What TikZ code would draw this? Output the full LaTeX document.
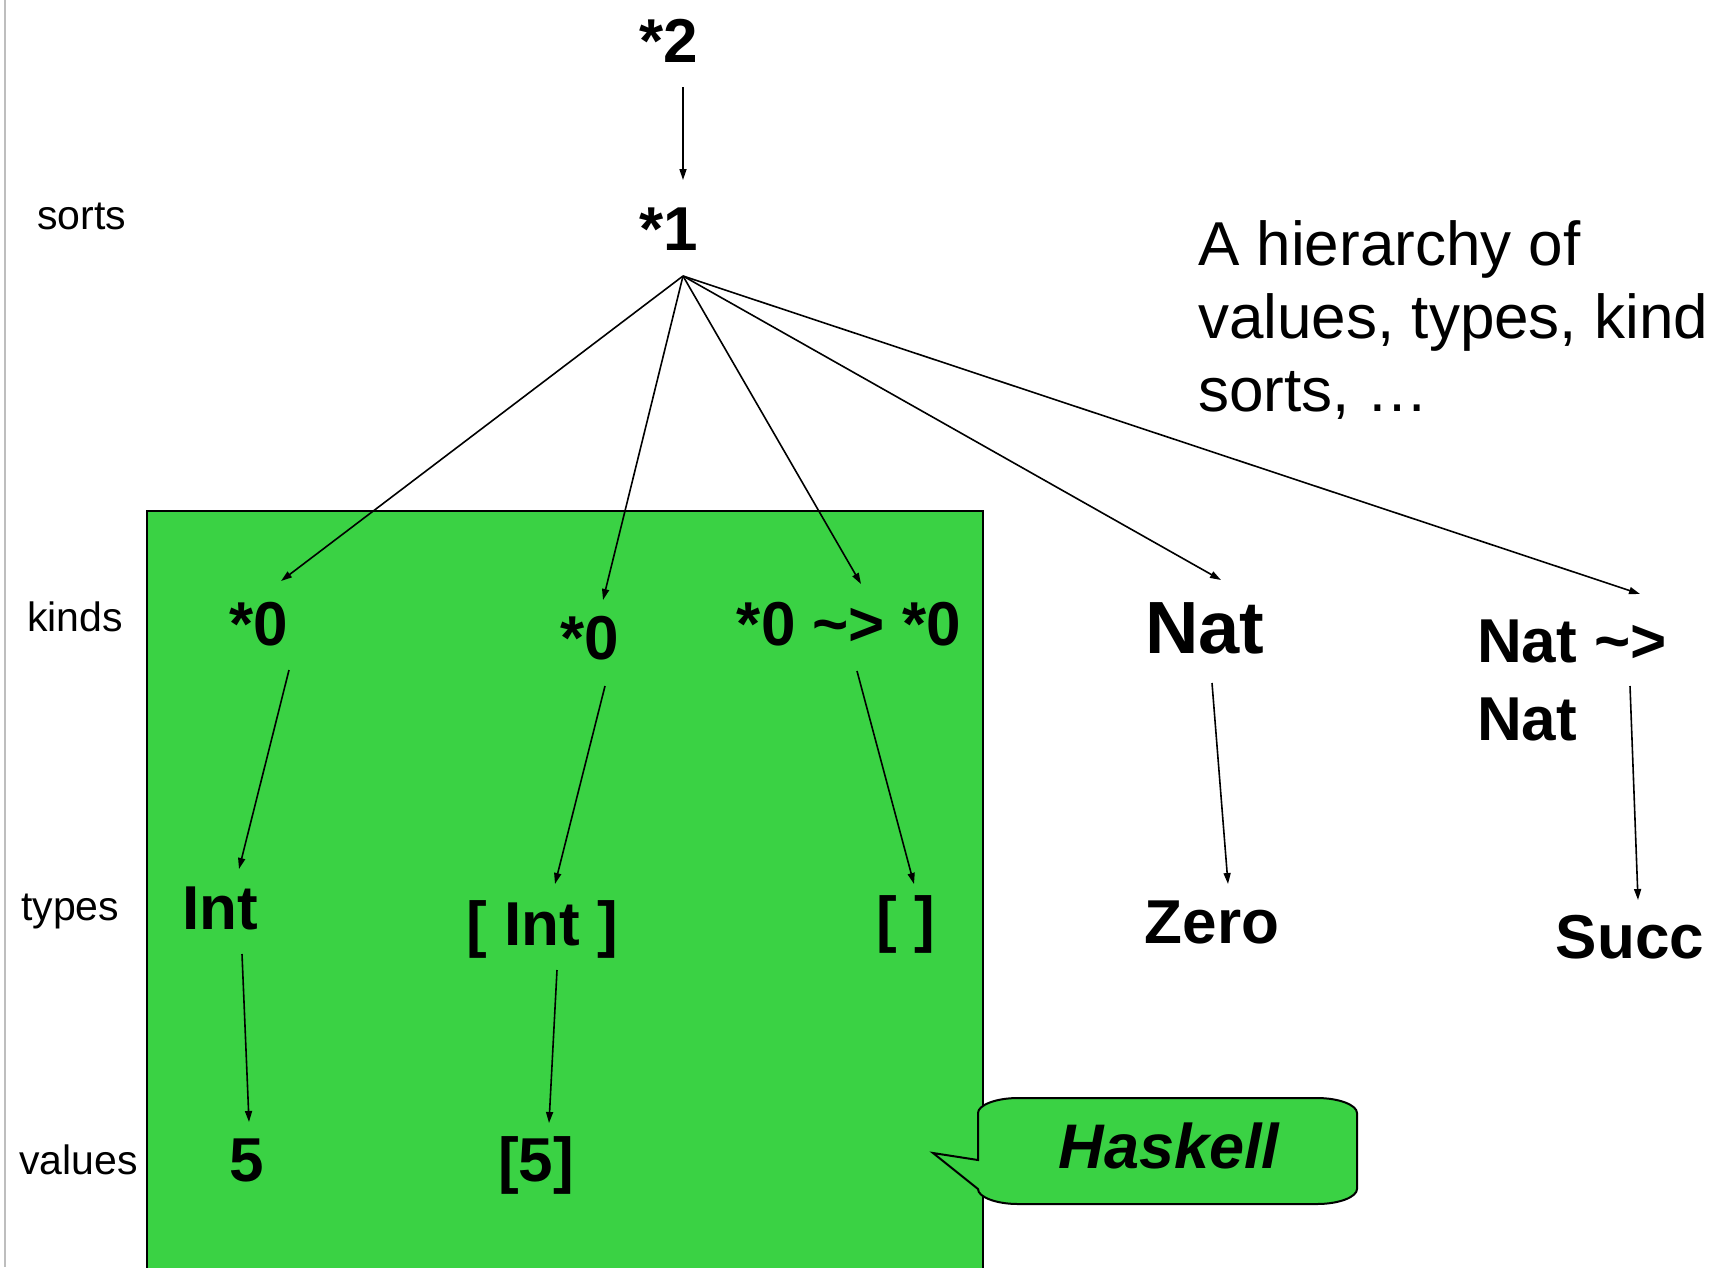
\documentclass[tikz,border=0pt]{standalone}
\usepackage{fontspec}
\setmainfont{Liberation Sans}
\usetikzlibrary{arrows.meta}
\definecolor{boxgreen}{RGB}{58,210,68}
\definecolor{edgegray}{RGB}{190,190,190}
\begin{document}
\begin{tikzpicture}[x=1pt,y=-1pt,
  lbl/.style={inner sep=0pt, anchor=base west, font=\fontsize{41}{49}\selectfont},
  term/.style={inner sep=0pt, anchor=base, font=\fontsize{62}{78}\selectfont\bfseries},
  bigterm/.style={term, font=\fontsize{74}{88}\selectfont\bfseries},
  arr/.style={line width=1.6pt, -{Triangle[length=11pt,width=7pt]}},
]
\useasboundingbox (0,0) rectangle (1712,1267);
\clip (0,0) rectangle (1712,1267);

% page edge
\draw[edgegray, line width=2pt] (5,0) -- (5,1267);

% the Haskell region
\draw[line width=2pt, fill=boxgreen] (147,511) rectangle (983,1300);

% level labels
\node[lbl] (lsorts) at (37,229) {sorts};
\node[lbl] (lkinds) at (27,631) {kinds};
\node[lbl] (ltypes) at (21,920) {types};
\node[lbl] (lvalues) at (19,1174) {values};

% sorts
\node[term] (s2) at (669,62) {*2};
\node[term] (s1) at (669,250) {*1};

% kinds
\node[term] (k1) at (259,645) {*0};
\node[term] (k2) at (590,659) {*0};
\node[term] (k3) at (849,645) {*0 \textasciitilde> *0};
\node[bigterm] (k4) at (1205,653) {Nat};
% multi-line node: its base anchor sits on the last line
\node[term, anchor=base west, align=left] (k5) at (1477,740) {Nat \textasciitilde>\\Nat};

% types
\node[term] (t1) at (220,929) {Int};
\node[term] (t2) at (542,945) {[ Int ]};
\node[term] (t3) at (906,940) {[ ]};
\node[term] (t4) at (1212,943) {Zero};
\node[term] (t5) at (1630,958) {Succ};

% values
\node[term] (v1) at (247,1181) {5};
\node[term] (v2) at (536,1181) {[5]};

% side note
\node[inner sep=0pt, anchor=base west, align=left,
      font=\fontsize{62}{73}\selectfont] (note) at (1198,411)
      {A hierarchy of\\values, types, kind\\sorts, …};

% callout
\draw[line width=2pt, fill=boxgreen]
  (978,1160) -- (978,1113)
  .. controls (978,1105) and (996,1098) .. (1018,1098) -- (1317,1098)
  .. controls (1339,1098) and (1357,1105) .. (1357,1113) -- (1357,1189)
  .. controls (1357,1197) and (1339,1204) .. (1317,1204) -- (1018,1204)
  .. controls (996,1204) and (978,1197) .. (978,1189)
  -- (933,1153) -- cycle;
\node[inner sep=0pt, anchor=base, font=\fontsize{63}{74}\selectfont\bfseries\itshape]
  (hs) at (1169,1168) {Haskell};

% connectors
\draw[arr] ([shift={(14,25)}]s2.base) -- ([shift={(14,-70)}]s1.base);
\coordinate (fan) at ([shift={(14,26)}]s1.base);
\draw[arr] (fan) -- ([shift={(22,-64)}]k1.base);
\draw[arr] (fan) -- ([shift={(13,-59)}]k2.base);
\draw[arr] (fan) -- ([shift={(12,-61)}]k3.base);
\draw[arr] (fan) -- ([shift={(16,-73)}]k4.base);
\draw[arr] (fan) -- ([shift={(163,-146)}]k5.base west);

\draw[arr] ([shift={(30,25)}]k1.base) -- ([shift={(19,-60)}]t1.base);
\draw[arr] ([shift={(15,27)}]k2.base) -- ([shift={(13,-61)}]t2.base);
\draw[arr] ([shift={(8,26)}]k3.base) -- ([shift={(8,-56)}]t3.base);
\draw[arr] ([shift={(7,30)}]k4.base) -- ([shift={(16,-59)}]t4.base);
\draw[arr] ([shift={(153,-54)}]k5.base west) -- ([shift={(8,-58)}]t5.base);

\draw[arr] ([shift={(22,25)}]t1.base) -- ([shift={(2,-59)}]v1.base);
\draw[arr] ([shift={(15,25)}]t2.base) -- ([shift={(13,-58)}]v2.base);
\end{tikzpicture}
\end{document}
